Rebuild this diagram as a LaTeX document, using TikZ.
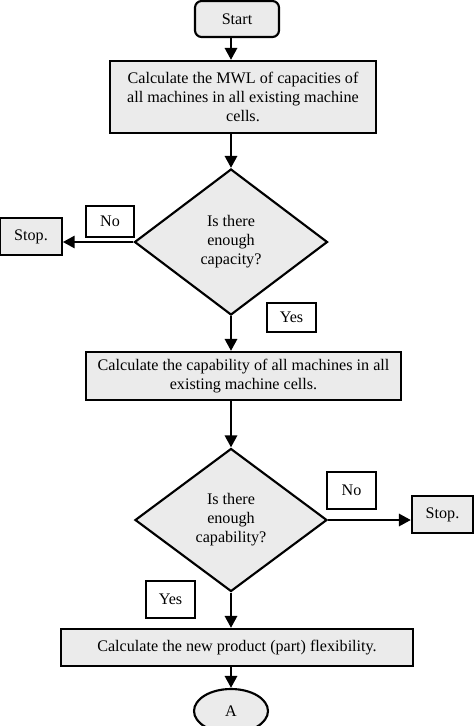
\documentclass[tikz,border=0pt]{standalone}
\usepackage{fontspec}
\setmainfont{Liberation Serif}
\usetikzlibrary{arrows.meta,shapes.geometric}
\tikzset{
  flowbox/.style={draw, line width=1.6pt, fill=black!8, inner sep=0pt, align=center},
  decide/.style={diamond, draw, line width=1.6pt, fill=black!8, inner sep=0pt, align=center},
  tagbox/.style={draw, line width=1pt, fill=white, inner sep=0pt},
  flowarrow/.style={line width=2.2pt, -{Triangle[length=9pt,width=9pt]}}
}
\begin{document}
\begin{tikzpicture}[x=0.75pt, y=-0.75pt, font=\fontsize{12.1}{14.3}\selectfont]
			%%%%% START %%%%%
			
			\fill[white] (0, 0) rectangle (474, 726);
			\useasboundingbox (0, 0) rectangle (474, 726);
			
			\node[flowbox, rounded corners=5pt, minimum width=63pt, minimum height=27pt] (start) at (237, 19) {Start};
			\node[flowbox, minimum width=199.5pt, minimum height=54pt] (calcMWL) at (243, 97) {Calculate the MWL of capacities of\\all machines in all existing machine\\cells.};
			
			\node[decide, minimum width=144.75pt, minimum height=109.5pt] (capacity) at (231, 242) {Is there\\enough\\capacity?};
			\node[flowbox, minimum width=46pt, minimum height=27.75pt] (stopA) at (31, 236.5) {Stop.};
			\node[tagbox, minimum width=36pt, minimum height=23.25pt] (noA) at (110, 221.5) {No};
			\node[tagbox, minimum width=36.75pt, minimum height=21.75pt] (yesA) at (291.5, 317.5) {Yes};
			
			\node[flowbox, minimum width=236.25pt, minimum height=36pt] (calcCap) at (243.5, 376) {Calculate the capability of all machines in all\\existing machine cells.};
			
			\node[decide, minimum width=144pt, minimum height=107.25pt] (capability) at (231, 520) {Is there\\enough\\capability?};
			\node[tagbox, minimum width=36.75pt, minimum height=27.75pt] (noB) at (351.5, 490.5) {No};
			\node[flowbox, minimum width=45.75pt, minimum height=27.75pt] (stopB) at (442.5, 514.5) {Stop.};
			\node[tagbox, minimum width=36.75pt, minimum height=27.75pt] (yesB) at (170.5, 599.5) {Yes};
			
			\node[flowbox, minimum width=264pt, minimum height=27.75pt] (calcFlex) at (237, 647.5) {Calculate the new product (part) flexibility.};
			\node[flowbox, ellipse, minimum width=55.5pt, minimum height=33pt] (connA) at (231, 711) {A};
			
			\draw[flowarrow] (start.south -| capacity.north) -- (calcMWL.north -| capacity.north);
			\draw[flowarrow] (calcMWL.south -| capacity.north) -- (capacity.north);
			\draw[flowarrow] (capacity.west) -- (stopA.east |- capacity.west);
			\draw[flowarrow] (capacity.south) -- (calcCap.north -| capacity.south);
			\draw[flowarrow] (calcCap.south -| capability.north) -- (capability.north);
			\draw[flowarrow] (capability.east) -- (stopB.west |- capability.east);
			\draw[flowarrow] (capability.south) -- (calcFlex.north -| capability.south);
			\draw[flowarrow] (calcFlex.south -| connA.north) -- (connA.north);
			
			%%%%% END %%%%%
\end{tikzpicture}
\end{document}
